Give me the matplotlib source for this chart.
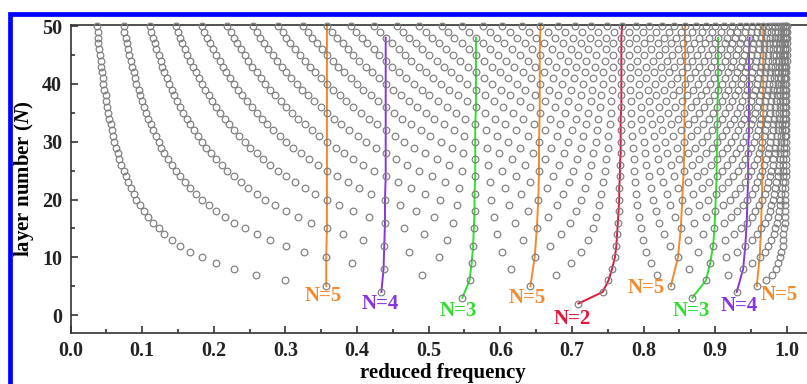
import matplotlib
matplotlib.use("Agg")
import matplotlib.pyplot as plt
from matplotlib.patches import Rectangle
from matplotlib.ticker import MultipleLocator

# reduced frequencies of the modes for every layer number N
n02 = [.709]
n03 = [.547, .868]
n04 = [.434, .743, .930]
n05 = [.357, .642, .838, .958]
n06 = [.300, .557, .751, .887, .971]
n07 = [.259, .491, .678, .819, .918, .979]
n08 = [.228, .437, .615, .756, .863, .939, .985]
n09 = [.203, .393, .560, .699, .810, .893, .952, .988]
n10 = [.183, .357, .514, .648, .760, .848, .915, .962, .991]
n11 = [.167, .326, .473, .603, .713, .804, .876, .930, .969, .992]
n12 = [.153, .301, .438, .562, .670, .762, .837, .897, .942, .974, .994]
n13 = [.141, .279, .408, .526, .631, .722, .799, .862, .913, .951, .978, .995]
n14 = [.131, .260, .381, .494, .595, .685, .763, .829, .883, .926, .958, .982, .995]
n15 = [.123, .243, .358, .465, .563, .651, .729, .796, .852, .899, .936, .964, .984, .996]
n16 = [.115, .228, .336, .439, .534, .620, .697, .764, .822, .871, .912, .944, .969, .986, .997]
n17 = [.108, .215, .318, .416, .507, .591, .667, .734, .793, .844, .887, .922, .951, .973, .988, .997]
n18 = [.102, .203, .301, .394, .482, .564, .638, .705, .765, .817, .862, .900, .931, .956, .976, .989, .997]
n19 = [.097, .193, .286, .375, .460, .539, .612, .679, .738, .791, .837, .877, .911, .939, .961, .978, .990, .998]
n20 = [.092, .183, .272, .358, .439, .516, .587, .653, .712, .766, .813, .854, .890, .920, .945, .965, .980, .991, .998]
n21 = [.088, .175, .260, .342, .420, .495, .564, .629, .688, .741, .789, .832, .869, .901, .928, .951, .969, .982, .992, .998]
n22 = [.084, .167, .248, .327, .403, .475, .543, .606, .665, .718, .766, .810, .848, .881, .910, .935, .955, .972, .984, .993, .998]
n23 = [.080, .160, .238, .314, .387, .457, .523, .585, .642, .696, .744, .788, .827, .862, .892, .918, .941, .959, .974, .985, .994, .998]
n24 = [.077, .153, .228, .301, .372, .440, .504, .565, .622, .674, .723, .767, .807, .842, .874, .902, .925, .946, .963, .976, .987, .994, .999]
n25 = [.074, .147, .219, .290, .358, .424, .486, .546, .602, .654, .702, .746, .787, .823, .856, .885, .910, .932, .950, .966, .978, .988, .995, .999]
n26 = [.071, .141, .211, .279, .345, .409, .470, .528, .583, .634, .682, .727, .767, .804, .838, .867, .894, .917, .937, .954, .968, .980, .989, .995, .999]
n27 = [.068, .136, .203, .269, .333, .395, .454, .511, .565, .616, .663, .707, .748, .786, .820, .850, .878, .902, .924, .942, .958, .971, .981, .990, .995, .999]
n28 = [.066, .131, .196, .260, .322, .382, .440, .495, .548, .598, .645, .689, .730, .768, .802, .833, .862, .887, .910, .929, .946, .961, .973, .983, .990, .996, .999]
n29 = [.064, .127, .189, .251, .311, .370, .426, .480, .532, .581, .628, .671, .712, .750, .785, .817, .846, .872, .895, .916, .934, .950, .964, .975, .984, .991, .996, .999]
n30 = [.061, .123, .183, .243, .301, .358, .413, .466, .517, .565, .611, .654, .695, .733, .768, .800, .830, .857, .881, .903, .922, .939, .954, .966, .977, .985, .992, .996, .999]
n31 = [.060, .119, .178, .235, .292, .347, .401, .453, .502, .550, .595, .638, .679, .716, .751, .784, .814, .841, .866, .889, .909, .927, .943, .957, .968, .978, .986, .992, .997, .999]
n32 = [.058, .115, .172, .228, .283, .337, .389, .440, .489, .535, .580, .622, .662, .700, .735, .768, .798, .826, .852, .875, .896, .915, .932, .947, .960, .970, .980, .987, .993, .997, .999]
n33 = [.056, .112, .167, .221, .275, .327, .378, .428, .476, .521, .565, .607, .647, .684, .720, .753, .783, .812, .838, .862, .883, .903, .921, .936, .950, .962, .972, .981, .988, .993, .997, .999]
n34 = [.054, .108, .162, .215, .267, .318, .368, .416, .463, .508, .551, .593, .632, .669, .705, .737, .768, .797, .823, .848, .870, .891, .909, .926, .940, .953, .964, .974, .982, .989, .994, .997, .999]
n35 = [.053, .105, .157, .209, .260, .309, .358, .405, .451, .496, .538, .579, .618, .655, .690, .723, .754, .783, .809, .834, .857, .878, .897, .914, .930, .944, .956, .967, .976, .983, .989, .994, .997, .999]
n36 = [.051, .102, .153, .203, .253, .301, .349, .395, .440, .484, .525, .566, .604, .641, .676, .708, .739, .769, .796, .821, .844, .866, .885, .903, .919, .934, .947, .959, .968, .977, .984, .990, .994, .997, .999]
n37 = [.050, .100, .149, .198, .246, .294, .340, .385, .429, .472, .513, .553, .591, .627, .662, .694, .726, .755, .782, .808, .831, .853, .873, .892, .909, .924, .938, .950, .961, .970, .978, .985, .990, .995, .998, .999]
n38 = [.049, .097, .145, .193, .240, .286, .331, .376, .419, .461, .501, .541, .578, .614, .648, .681, .712, .741, .769, .794, .818, .841, .861, .880, .898, .914, .928, .941, .953, .963, .972, .979, .986, .991, .995, .998, .999]
n39 = [.047, .095, .141, .188, .234, .279, .323, .367, .409, .450, .490, .529, .566, .601, .635, .668, .699, .728, .756, .781, .806, .828, .849, .869, .887, .904, .918, .932, .944, .955, .965, .973, .980, .986, .991, .995, .998, .999]
n40 = [.046, .092, .138, .183, .228, .272, .316, .358, .400, .440, .479, .517, .554, .589, .623, .655, .686, .715, .743, .769, .793, .816, .838, .858, .876, .893, .909, .923, .936, .947, .958, .967, .975, .981, .987, .992, .995, .998, .999]
n41 = [.045, .090, .135, .179, .223, .266, .308, .350, .391, .430, .469, .506, .543, .577, .611, .643, .673, .703, .730, .756, .781, .804, .826, .846, .865, .882, .899, .913, .927, .939, .950, .960, .968, .976, .982, .988, .992, .996, .998, .9995]
n42 = [.044, .088, .131, .175, .217, .260, .301, .342, .382, .421, .459, .496, .531, .566, .599, .631, .661, .690, .718, .744, .769, .792, .814, .835, .854, .872, .889, .904, .918, .930, .942, .952, .962, .970, .977, .983, .988, .993, .996, .998, .9995]
n43 = [.043, .086, .128, .171, .213, .254, .295, .335, .374, .412, .449, .486, .521, .555, .588, .619, .649, .678, .706, .732, .757, .781, .803, .824, .843, .861, .878, .894, .908, .922, .934, .945, .955, .964, .971, .978, .984, .989, .993, .996, .998, .9995]
n44 = [.042, .084, .126, .167, .208, .248, .288, .327, .366, .403, .440, .476, .511, .544, .577, .608, .638, .667, .694, .720, .746, .769, .791, .813, .832, .851, .868, .884, .899, .913, .925, .937, .947, .957, .965, .973, .979, .985, .989, .993, .996, .998, .9996]
n45 = [.041, .082, .123, .163, .203, .243, .282, .321, .358, .395, .431, .467, .501, .534, .566, .597, .627, .655, .683, .709, .734, .758, .780, .801, .822, .840, .858, .874, .890, .904, .917, .929, .940, .950, .959, .967, .974, .980, .985, .990, .994, .996, .998, .9996]
n46 = [.040, .080, .120, .160, .199, .238, .276, .314, .351, .387, .423, .458, .491, .524, .556, .586, .616, .644, .672, .698, .723, .747, .769, .791, .811, .830, .848, .865, .880, .895, .908, .921, .932, .943, .952, .961, .968, .975, .981, .986, .990, .994, .997, .998, .9996]
n47 = [.039, .079, .118, .156, .195, .233, .270, .307, .344, .380, .414, .449, .482, .514, .546, .576, .605, .634, .661, .687, .712, .736, .758, .780, .800, .820, .838, .855, .871, .886, .900, .913, .924, .934, .944, .953, .961, .968, .975, .981, .985, .990, .993, .996, .998, .9996]
n48 = [.038, .077, .115, .153, .191, .228, .265, .301, .337, .372, .407, .440, .473, .505, .536, .566, .595, .623, .650, .676, .701, .725, .748, .769, .790, .809, .828, .845, .861, .877, .891, .904, .916, .928, .938, .948, .956, .964, .971, .977, .983, .987, .991, .994, .997, .999, .9997]
n49 = [.038, .075, .113, .150, .187, .224, .260, .296, .331, .365, .399, .432, .464, .496, .527, .556, .585, .613, .640, .666, .691, .714, .737, .759, .780, .799, .818, .835, .852, .867, .882, .896, .908, .920, .931, .941, .950, .958, .966, .972, .978, .983, .988, .992, .995, .997, .999, .9997]
n50 = [.037, .074, .111, .147, .183, .219, .255, .290, .324, .358, .392, .424, .456, .487, .518, .547, .576, .603, .630, .656, .680, .704, .727, .749, .770, .789, .808, .826, .843, .858, .873, .887, .900, .912, .923, .934, .943, .952, .960, .967, .974, .979, .984, .988, .992, .995, .997, .999, .9997]

layers = list(range(2, 51))
rows = [n02, n03, n04, n05, n06, n07, n08, n09, n10, n11, n12, n13, n14, n15,
        n16, n17, n18, n19, n20, n21, n22, n23, n24, n25, n26, n27, n28, n29,
        n30, n31, n32, n33, n34, n35, n36, n37, n38, n39, n40, n41, n42, n43,
        n44, n45, n46, n47, n48, n49, n50]

# highlighted families: (period, branch, colour, label x, label y)
families = [
    (5, 1, "#f28a2e", 0.353, 3.3),
    (4, 1, "#8a35dc", 0.433, 2.0),
    (3, 1, "#2fe02f", 0.541, 0.7),
    (5, 2, "#f28a2e", 0.637, 2.9),
    (2, 1, "#e3173a", 0.700, -0.7),
    (5, 3, "#f28a2e", 0.804, 4.7),
    (3, 2, "#2fe02f", 0.867, 0.7),
    (4, 3, "#8a35dc", 0.934, 1.5),
    (5, 4, "#f28a2e", 0.990, 3.4),
]

plt.rcParams["font.family"] = "Liberation Serif"
plt.rcParams["font.weight"] = "bold"
plt.rcParams["axes.labelweight"] = "bold"
plt.rcParams["mathtext.fontset"] = "custom"
plt.rcParams["mathtext.rm"] = "Liberation Serif:bold"
plt.rcParams["mathtext.it"] = "Liberation Serif:italic:bold"

fig = plt.figure(figsize=(8.07, 3.84), dpi=100)
ax = fig.add_axes([70.5 / 807, 51 / 384, 745 / 807, 308 / 384])

xs, ys = [], []
for n, row in zip(layers, rows):
    assert len(row) == n - 1, n
    xs += row
    ys += [n] * len(row)
ax.plot(xs, ys, linestyle="none", marker="o", ms=4.8, mfc="none",
        mec="#7d7d7d", mew=0.85, zorder=3, clip_on=False)

for m, j, col, lx, ly in families:
    fx, fy = [], []
    for n, row in zip(layers, rows):
        if n % m == 0:
            fx.append(row[j * n // m - 1])
            fy.append(n)
    ax.plot(fx, fy, color=col, lw=1.4, zorder=2)
    ax.text(lx, ly, "N=%d" % m, color=col, fontsize=15, fontweight="bold",
            ha="center", va="center")

ax.set_xlim(0, 1.04)
ax.set_ylim(-3.1, 50.2)
ax.set_xticks([0.0, 0.1, 0.2, 0.3, 0.4, 0.5, 0.6, 0.7, 0.8, 0.9, 1.0])
ax.set_yticks([0, 10, 20, 30, 40, 50])
ax.xaxis.set_minor_locator(MultipleLocator(0.05))
ax.yaxis.set_minor_locator(MultipleLocator(5))
ax.tick_params(which="both", direction="in", top=False, right=False,
               labelsize=14.5, width=1.1, colors="#222222", pad=6)
ax.tick_params(which="major", length=5)
ax.tick_params(which="minor", length=3)
for s in ax.spines.values():
    s.set_linewidth(1.2)
    s.set_color("#333333")

ax.set_xlabel("reduced frequency", fontsize=15, labelpad=1)
ax.set_ylabel(r"layer number ($\mathit{N}$)", fontsize=15, labelpad=4)

# blue frame around the figure (cut at right and bottom)
fig.add_artist(Rectangle((9.5 / 807, -0.2), 1.5, 1.2 - 14 / 384,
                         transform=fig.transFigure, fill=False,
                         edgecolor="#0000ff", lw=3.4))

plt.savefig("out.png", dpi=100)
